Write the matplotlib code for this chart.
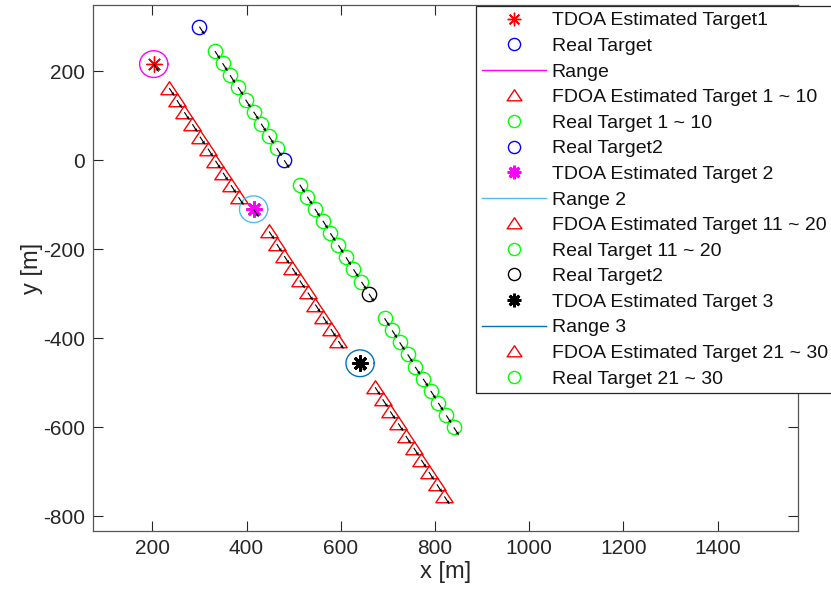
import numpy as np
import matplotlib
matplotlib.use("Agg")
import matplotlib.pyplot as plt
from matplotlib.path import Path

plt.rcParams['font.family'] = ['Liberation Sans', 'DejaVu Sans']
plt.rcParams['axes.unicode_minus'] = False

# ---- positions [m] ----
real_target1 = ([300.0], [300.0])
real_target2 = ([480.0], [0.0])
real_target3 = ([660.0], [-300.0])

tdoa1 = ([203.0], [216.0])
tdoa2 = ([415.0], [-110.0])
tdoa3 = ([641.0], [-456.0])

range_radius = 30.0

real_1_10_x = [333, 349, 365, 382, 398, 415, 431, 447, 464]
real_1_10_y = [245, 218, 191, 164, 136, 109, 82, 55, 27]
real_11_20_x = [513, 529, 545, 562, 578, 595, 611, 627, 644]
real_11_20_y = [-55, -82, -109, -136, -164, -191, -218, -245, -273]
real_21_30_x = [693, 709, 725, 742, 758, 775, 791, 807, 824, 840]
real_21_30_y = [-355, -382, -409, -436, -464, -491, -518, -545, -573, -600]

fdoa_1_10_x = [236, 252, 268, 285, 301, 318, 334, 350, 367, 383]
fdoa_1_10_y = [162, 135, 108, 81, 53, 26, -1, -28, -56, -83]
fdoa_11_20_x = [448, 464, 480, 497, 513, 530, 546, 562, 579, 595]
fdoa_11_20_y = [-160, -188, -215, -242, -270, -297, -324, -351, -379, -406]
fdoa_21_30_x = [673, 689, 705, 722, 738, 755, 771, 787, 804, 820]
fdoa_21_30_y = [-510, -537, -564, -591, -619, -646, -673, -700, -728, -755]

# heading arrow drawn at every point
arrow_dx, arrow_dy = 11.0, -18.0

x_ticks = [200, 400, 600, 800, 1000, 1200, 1400]
y_ticks = [-800, -600, -400, -200, 0, 200]

# ---- styles ----
RED = '#FF0000'
GREEN = '#00FF00'
BLUE = '#0000FF'
MAGENTA = '#FF00FF'
RANGE2 = '#4DBEEE'
RANGE3 = '#0072BD'
AXC = '#262626'

tri = Path([(-1, -0.72), (1, -0.72), (0, 0.78), (-1, -0.72)],
           [Path.MOVETO, Path.LINETO, Path.LINETO, Path.CLOSEPOLY])
ast = (8, 2, 0)

fig = plt.figure(figsize=(8.31, 5.97), dpi=100)
ax = fig.add_axes([0.1119, 0.1111, 0.848, 0.880])

ms_c = 10.3
ms_t = 12.5
mew = 1.0
theta = np.linspace(0, 2 * np.pi, 200)


def ring(center, color, label):
    cx, cy = center[0][0], center[1][0]
    ax.plot(cx + range_radius * np.cos(theta), cy + range_radius * np.sin(theta),
            color=color, lw=1.0, label=label)


def circles(xs, ys, color, label):
    ax.plot(xs, ys, ls='none', marker='o', ms=ms_c, mfc='none', mec=color,
            mew=mew, label=label)


def triangles(xs, ys, label):
    ax.plot(xs, ys, ls='none', marker=tri, ms=ms_t, mfc='none', mec=RED,
            mew=mew, label=label)


def stars(pt, color, lw, label):
    ax.plot(pt[0], pt[1], ls='none', marker=ast, ms=11.5, mec=color, mfc=color,
            mew=lw, label=label)


stars(tdoa1, RED, 1.0, 'TDOA Estimated Target1')
circles(*real_target1, BLUE, 'Real Target')
ring(tdoa1, MAGENTA, 'Range')
triangles(fdoa_1_10_x, fdoa_1_10_y, 'FDOA Estimated Target 1 ~ 10')
circles(real_1_10_x, real_1_10_y, GREEN, 'Real Target 1 ~ 10')
circles(*real_target2, BLUE, 'Real Target2')
stars(tdoa2, MAGENTA, 2.0, 'TDOA Estimated Target 2')
ring(tdoa2, RANGE2, 'Range 2')
triangles(fdoa_11_20_x, fdoa_11_20_y, 'FDOA Estimated Target 11 ~ 20')
circles(real_11_20_x, real_11_20_y, GREEN, 'Real Target 11 ~ 20')
circles(*real_target3, 'k', 'Real Target2')
stars(tdoa3, 'k', 2.0, 'TDOA Estimated Target 3')
ring(tdoa3, RANGE3, 'Range 3')
triangles(fdoa_21_30_x, fdoa_21_30_y, 'FDOA Estimated Target 21 ~ 30')
circles(real_21_30_x, real_21_30_y, GREEN, 'Real Target 21 ~ 30')

# heading arrows
all_x = (tdoa1[0] + real_target1[0] + fdoa_1_10_x + real_1_10_x + real_target2[0]
         + tdoa2[0] + fdoa_11_20_x + real_11_20_x + real_target3[0] + tdoa3[0]
         + fdoa_21_30_x + real_21_30_x)
all_y = (tdoa1[1] + real_target1[1] + fdoa_1_10_y + real_1_10_y + real_target2[1]
         + tdoa2[1] + fdoa_11_20_y + real_11_20_y + real_target3[1] + tdoa3[1]
         + fdoa_21_30_y + real_21_30_y)
ax.quiver(all_x, all_y, np.full(len(all_x), arrow_dx), np.full(len(all_y), arrow_dy),
          angles='xy', scale_units='xy', scale=1, color='k', width=0.0016,
          headwidth=3, headlength=3.5, headaxislength=3, zorder=5)

ax.set_xlim(74, 1570)
ax.set_ylim(-832, 348)
ax.set_xticks(x_ticks)
ax.set_yticks(y_ticks)
ax.tick_params(direction='in', length=7, width=0.8, top=True, right=True,
               labelsize=15, colors=AXC, pad=6)
for s in ax.spines.values():
    s.set_color('#555555')
    s.set_linewidth(0.9)
ax.set_xlabel('x [m]', fontsize=17, color=AXC, labelpad=2)
ax.set_ylabel('y [m]', fontsize=17, color=AXC, labelpad=0)

leg = ax.legend(loc='upper left', bbox_to_anchor=(476 / 831, 1 - 6 / 597),
                bbox_transform=fig.transFigure, borderaxespad=0, fontsize=14,
                frameon=True, fancybox=False, framealpha=1, edgecolor=AXC,
                handlelength=3.3, handletextpad=0.3, borderpad=0.3,
                labelspacing=0.41, markerscale=0.85)
leg.get_frame().set_linewidth(0.9)
for t in leg.get_texts():
    t.set_color('#111111')

fig.savefig('out.png', dpi=100)
